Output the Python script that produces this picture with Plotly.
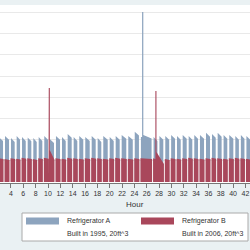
import plotly.graph_objects as go

# Refrigerator A cycles: start hour, end hour, power at start and end of each run (W)
a_start = [2.00, 3.03, 4.00, 4.92, 5.79, 6.71, 7.62, 8.49, 9.40, 10.32, 11.29, 12.27, 13.19, 14.16,
           15.07, 16.04, 17.08, 18.05, 18.96, 20.00, 20.97, 21.94, 23.01, 24.06, 25.06, 25.25, 25.45,
           27.11, 28.06, 29.01, 29.96, 30.91, 31.83, 32.80, 33.71, 34.63, 35.61, 36.58, 37.50, 38.46,
           39.38, 40.36, 41.26, 42.16]
a_end = [2.71, 3.68, 4.60, 5.47, 6.39, 7.30, 8.17, 9.08, 10.00, 10.97, 11.95, 12.87, 13.84, 14.75,
         15.72, 16.76, 17.73, 18.64, 19.68, 20.65, 21.62, 22.69, 23.74, 24.74, 25.25, 25.45, 26.79,
         27.74, 28.69, 29.64, 30.59, 31.51, 32.48, 33.39, 34.31, 35.29, 36.26, 37.18, 38.14, 39.06,
         40.04, 40.94, 41.84, 42.79]
a_level_start = [212, 217, 207, 217, 212, 210, 207, 212, 217, 202, 217, 212, 227, 212,
                 217, 212, 217, 207, 217, 212, 217, 222, 217, 237, 212, 802, 222,
                 212, 217, 217, 222, 217, 222, 217, 222, 222, 232, 227, 232, 222,
                 222, 217, 222, 217]
a_level_end = [194, 199, 189, 199, 194, 192, 189, 194, 199, 184, 199, 194, 209, 194,
               199, 194, 199, 189, 199, 194, 199, 204, 199, 219, 212, 802, 205,
               194, 199, 199, 204, 199, 204, 199, 204, 204, 214, 209, 214, 204,
               204, 199, 204, 199]

# Refrigerator B cycles: start hour, end hour, power at start and end (W)
b_start = [2.00, 2.95, 3.92, 4.84, 5.71, 6.63, 7.54, 8.41, 9.32, 10.12, 10.30, 11.21, 12.19, 13.11,
           14.08, 14.99, 15.96, 17.00, 17.97, 18.88, 19.92, 20.89, 21.86, 22.93, 23.98, 24.98, 27.03,
           27.40, 27.58, 28.93, 29.88, 30.83, 31.75, 32.72, 33.63, 34.55, 35.53, 36.50, 37.42, 38.38,
           39.30, 40.28, 41.18, 42.08]
b_end = [2.79, 3.76, 4.68, 5.55, 6.47, 7.38, 8.25, 9.16, 10.08, 10.30, 11.05, 12.03, 12.95, 13.92,
         14.83, 15.80, 16.84, 17.81, 18.72, 19.76, 20.73, 21.70, 22.77, 23.82, 24.82, 26.87, 27.40,
         27.58, 28.79, 29.72, 30.67, 31.59, 32.56, 33.47, 34.39, 35.37, 36.34, 37.26, 38.22, 39.14,
         40.12, 41.02, 41.92, 42.87]
b_level_start = [112, 108, 112, 110, 115, 112, 108, 112, 115, 443, 150, 112, 110, 115,
                 112, 110, 112, 115, 112, 110, 112, 115, 112, 110, 112, 112, 112,
                 429, 141, 108, 112, 110, 112, 115, 112, 110, 112, 115, 112, 110,
                 112, 115, 112, 110]
b_level_end = [108, 104, 108, 106, 110, 108, 104, 108, 110, 443, 105, 108, 106, 110,
               108, 106, 108, 110, 108, 106, 108, 110, 108, 106, 108, 108, 108,
               429, 85, 104, 108, 106, 108, 110, 108, 106, 108, 110, 108, 106,
               108, 110, 108, 106]

x_ticks = list(range(0, 46, 2))
series_names = ["Refrigerator A", "Refrigerator B"]
series_notes = ["Built in 1995, 20ft^3", "Built in 2006, 20ft^3"]

BLUE = "#8DA4BE"
RED = "#A9475B"


def build(starts, ends, l0, l1):
    xs, ys = [], []
    for s, e, v0, v1 in zip(starts, ends, l0, l1):
        xs += [s, s, e, e]
        ys += [0, v0, v1, 0]
    return xs, ys


ax, ay = build(a_start, a_end, a_level_start, a_level_end)
bx, by = build(b_start, b_end, b_level_start, b_level_end)

fig = go.Figure()
fig.add_trace(go.Scatter(x=ax, y=ay, mode="lines", fill="tozeroy", fillcolor=BLUE,
                         line=dict(width=0, color=BLUE), showlegend=False, hoverinfo="skip"))
fig.add_trace(go.Scatter(x=bx, y=by, mode="lines", fill="tozeroy", fillcolor=RED,
                         line=dict(width=0, color=RED), showlegend=False, hoverinfo="skip"))

FONT = "Liberation Sans, Arial, sans-serif"
fig.update_layout(
    width=250, height=250,
    margin=dict(l=0, r=0, t=5, b=67),
    paper_bgcolor="#EAF1F3",
    plot_bgcolor="#FFFFFF",
    showlegend=False,
    font=dict(family=FONT, color="#333333"),
    xaxis=dict(range=[2.22, 42.74], tickvals=x_ticks, ticktext=[str(t) for t in x_ticks],
               ticks="outside", ticklen=4, tickcolor="#777777", showgrid=False,
               showline=True, linecolor="#777777", linewidth=1, zeroline=False,
               tickfont=dict(size=7, color="#333333", family=FONT)),
    yaxis=dict(range=[-4.7, 835], dtick=100, showticklabels=False, ticks="",
               showgrid=True, gridcolor="#E9E9E9", gridwidth=1, zeroline=False, showline=False),
)


def py(p):
    return (183 - p) / 178.0


fig.add_annotation(text="Hour", x=135 / 250, y=py(204), xref="paper", yref="paper",
                   showarrow=False, font=dict(size=8, color="#333333", family=FONT),
                   xanchor="center", yanchor="middle")

# legend box
fig.add_shape(type="rect", xref="paper", yref="paper", x0=22 / 250, x1=248 / 250,
              y0=py(241), y1=py(213), fillcolor="#FFFFFF", line=dict(color="#AAAAAA", width=1))
for i, (col, sx, tx) in enumerate([(BLUE, 26, 65), (RED, 141, 180)]):
    fig.add_shape(type="rect", xref="paper", yref="paper", x0=sx / 250, x1=(sx + 33) / 250,
                  y0=py(224.5), y1=py(217.5), fillcolor=col, line=dict(width=0))
    fig.add_annotation(text=series_names[i], x=tx / 250, y=py(221.5), xref="paper", yref="paper",
                       showarrow=False, xanchor="left", yanchor="middle",
                       font=dict(size=7, color="#333333", family=FONT))
    fig.add_annotation(text=series_notes[i], x=tx / 250, y=py(233.5), xref="paper", yref="paper",
                       showarrow=False, xanchor="left", yanchor="middle",
                       font=dict(size=7, color="#333333", family=FONT))

fig.write_html("out.html")
